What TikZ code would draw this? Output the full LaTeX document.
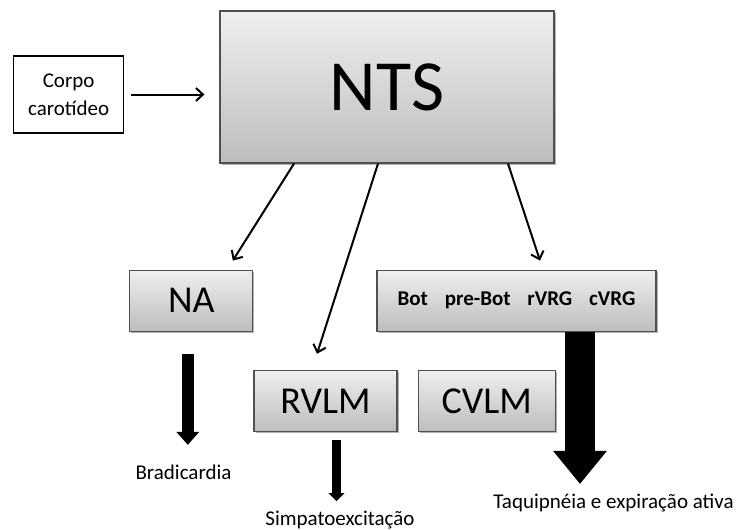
\documentclass[tikz,border=0pt]{standalone}
\usepackage{fontspec}
\setmainfont{Carlito}
\usetikzlibrary{arrows.meta,positioning,shadows}
\definecolor{ntsTop}{RGB}{239,239,239}
\definecolor{ntsBottom}{RGB}{189,189,189}
\definecolor{ntsEdge}{RGB}{80,80,80}

\begin{document}
\begin{tikzpicture}[
    x=1pt, y=-1pt,
    region/.style={draw=ntsEdge, line width=1.2pt, top color=ntsTop, bottom color=ntsBottom, inner sep=0pt, minimum height=61pt, font=\fontsize{38}{40}\selectfont, drop shadow={shadow xshift=1.6pt, shadow yshift=-1.6pt, fill=black, opacity=0.3}},
    input/.style={draw=black, line width=1.6pt, fill=white, align=center, minimum width=110pt, minimum height=77pt, inner sep=0pt, font=\fontsize{21}{28}\selectfont},
    effect/.style={inner sep=0pt, anchor=base, font=\fontsize{21}{25}\selectfont},
    link/.style={-{Straight Barb[length=7pt,width=13pt]}, line width=2pt},
    fatarrow/.style={line width=#1}
  ]
    \useasboundingbox (0,0) rectangle (740,530);
    \node[region, minimum width=334pt, minimum height=152pt, font=\fontsize{72}{76}\selectfont] (nts) at (387,87) {NTS};
    \node[input, left=95pt of nts, yshift=-7.5pt] (corpo) {Corpo\\carotídeo};
    \node[region, minimum width=123pt, below left=106pt and -34pt of nts] (na) {NA};
    \node[region, minimum width=279pt, right=123pt of na, font=\fontsize{21}{25}\selectfont\bfseries] (bot) {Bot\hspace{0.8em}pre-Bot\hspace{0.8em}rVRG\hspace{0.8em}cVRG};
    \node[region, minimum width=143pt, below right=38pt and 0pt of na] (rvlm) {RVLM};
    \node[region, minimum width=137pt, right=20pt of rvlm] (cvlm) {CVLM};
    \node[effect] (brad) at (183.5,479) {Bradicardia};
    \node[effect] (simp) at (340,525) {Simpatoexcitação};
    \node[effect] (taqui) at (613.5,508) {Taquipnéia e expiração ativa};
    % projections of the NTS
    \draw[link, shorten <=7pt, shorten >=15pt] (corpo.east) -- (corpo.east -| nts.west);
    \draw[link] ([xshift=-93pt]nts.south) -- ([xshift=41.5pt, yshift=9pt]na.north);
    \draw[link] ([xshift=-9pt]nts.south) -- ([xshift=-8.5pt, yshift=16pt]rvlm.north);
    \draw[link] ([xshift=121pt]nts.south) -- ([xshift=23.5pt, yshift=9pt]bot.north);
    % responses
    \draw[fatarrow=12pt, -{Triangle[width=23pt, length=13pt, line width=0pt]}] ([xshift=-3.5pt, yshift=-22pt]na.south) -- ++(0,91);
    \draw[fatarrow=9pt, -{Triangle[width=16pt, length=8pt, line width=0pt]}] ([xshift=11pt, yshift=-8pt]rvlm.south) -- ++(0,61);
    \draw[fatarrow=30pt, -{Triangle[width=54pt, length=33pt, line width=0pt]}] ([xshift=63.5pt]bot.south) -- ++(0,152);
  \end{tikzpicture}
\end{document}
